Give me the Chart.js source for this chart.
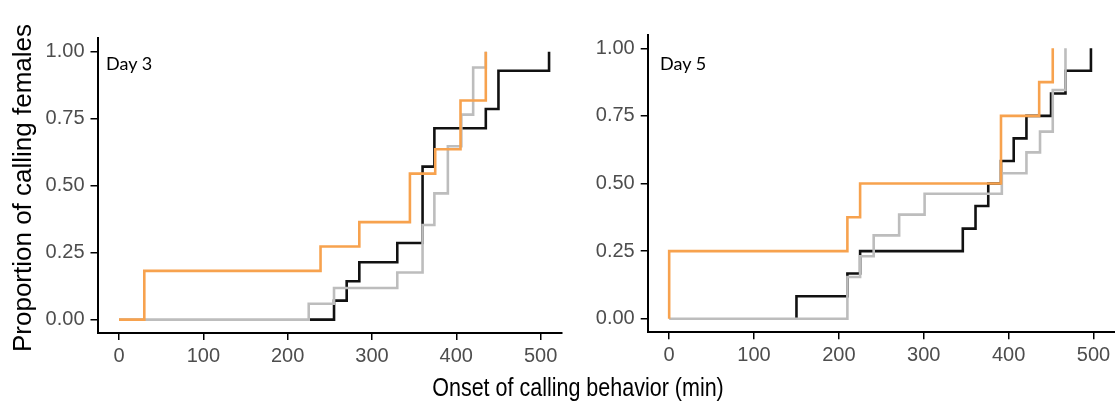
<!DOCTYPE html>
<html>
<head>
<meta charset="utf-8">
<script src="https://cdn.jsdelivr.net/npm/chart.js"></script>
<style>
  body { margin: 0; background: #fff; }
  #wrap { position: relative; width: 1115px; height: 403px; overflow: hidden; font-family: 'Liberation Sans', Arial, sans-serif; }
  canvas { position: absolute; top: 0; }
  .day { position: absolute; top: 54px; font-family: Lato, sans-serif; font-size: 18px; line-height: 18px; color: #000; }
  #xtitle { position: absolute; left: 278px; width: 600px; top: 375px; text-align: center; font-size: 25px; line-height: 25px; color: #000; transform: scaleX(0.86); }
  #ytitle { position: absolute; left: -178px; top: 173px; width: 400px; height: 30px; text-align: center; font-size: 26px; line-height: 30px; color: #000; transform: rotate(-90deg); }
</style>
</head>
<body>
<div id="wrap">
  <canvas id="painel3" width="572" height="403" style="left:0"></canvas>
  <canvas id="painel5" width="543" height="403" style="left:572px"></canvas>
  <div class="day" style="left:106px">Day 3</div>
  <div class="day" style="left:660px">Day 5</div>
  <div id="xtitle">Onset of calling behavior (min)</div>
  <div id="ytitle">Proportion of calling females</div>
</div>
<script>
// ticks
const xTicks = [0, 100, 200, 300, 400, 500];
const yTicks = [0, 0.25, 0.5, 0.75, 1];

// Day 3
const day3OrangeX = [0, 30, 239, 285, 345, 375, 405, 435];
const day3OrangeY = [0, 0.182, 0.273, 0.364, 0.545, 0.636, 0.818, 1];
const day3GreyX = [0, 225, 255, 330, 360, 374, 390, 406, 420, 435];
const day3GreyY = [0, 0.059, 0.118, 0.176, 0.353, 0.471, 0.647, 0.765, 0.941, 1];
const day3BlackX = [226, 255, 270, 285, 330, 360, 374, 435, 450, 510];
const day3BlackY = [0, 0.071, 0.143, 0.214, 0.286, 0.571, 0.714, 0.786, 0.929, 1];

// Day 5
const day5OrangeX = [0, 0, 210, 225, 391, 436, 452];
const day5OrangeY = [0, 0.25, 0.375, 0.5, 0.75, 0.875, 1];
const day5GreyX = [0, 210, 225, 241, 271, 301, 392, 421, 437, 452, 467];
const day5GreyY = [0, 0.154, 0.231, 0.308, 0.385, 0.462, 0.538, 0.615, 0.692, 0.846, 1];
const day5BlackX = [150, 150, 210, 225, 346, 361, 376, 391, 406, 421, 450, 467, 497];
const day5BlackY = [0, 0.083, 0.167, 0.25, 0.333, 0.417, 0.5, 0.583, 0.667, 0.75, 0.833, 0.917, 1];

const cores = { laranja: '#f7a24e', cinza: '#bdbdbd', preto: '#111111' };

function pontos(xs, ys) {
    return xs.map((x, i) => ({ x: x, y: ys[i] }));
}

function linha(xs, ys, cor, ordem) {
    return {
        data: pontos(xs, ys),
        borderColor: cor,
        borderWidth: 2.6,
        showLine: true,
        stepped: true,
        pointRadius: 0,
        borderJoinStyle: 'miter',
        order: ordem
    };
}

function gerarPainel(id, datasets, caixa) {
    const eixoTicks = { color: '#000', lineWidth: 1.5, drawOnChartArea: false, drawTicks: true, tickLength: 7 };
    const fonte = { family: "'Liberation Sans', Arial, sans-serif", size: 20 };
    let config = {
        type: 'scatter',
        data: { datasets: datasets },
        options: {
            responsive: false,
            animation: false,
            layout: { padding: { top: caixa.top, right: caixa.right, left: 0, bottom: 0 } },
            plugins: { legend: { display: false }, tooltip: { enabled: false } },
            scales: {
                x: {
                    type: 'linear',
                    min: caixa.xMin,
                    max: caixa.xMax,
                    afterBuildTicks: s => { s.ticks = xTicks.map(v => ({ value: v })); },
                    afterFit: s => { s.height = caixa.xHeight; },
                    grid: eixoTicks,
                    border: { display: true, color: '#000', width: 2 },
                    ticks: { autoSkip: false, maxRotation: 0, padding: 4, color: '#4d4d4d', font: fonte, callback: v => String(v) }
                },
                y: {
                    type: 'linear',
                    min: -0.05,
                    max: 1.05,
                    afterBuildTicks: s => { s.ticks = yTicks.map(v => ({ value: v })); },
                    afterFit: s => { s.width = caixa.yWidth; },
                    grid: eixoTicks,
                    border: { display: true, color: '#000', width: 2 },
                    ticks: { autoSkip: false, padding: 6, color: '#4d4d4d', font: fonte, callback: v => v.toFixed(2) }
                }
            }
        }
    };
    let ctx = document.getElementById(id).getContext('2d');
    return new Chart(ctx, config);
}

gerarPainel('painel3', [
    linha(day3OrangeX, day3OrangeY, cores.laranja, 0),
    linha(day3GreyX, day3GreyY, cores.cinza, 1),
    linha(day3BlackX, day3BlackY, cores.preto, 2)
], { top: 38.3, right: 10.3, xHeight: 70, yWidth: 97.5, xMin: -25.5, xMax: 525 });

gerarPainel('painel5', [
    linha(day5OrangeX, day5OrangeY, cores.laranja, 0),
    linha(day5GreyX, day5GreyY, cores.cinza, 1),
    linha(day5BlackX, day5BlackY, cores.preto, 2)
], { top: 34.8, right: 0.3, xHeight: 70.8, yWidth: 75.7, xMin: -25.3, xMax: 525 });
</script>
</body>
</html>
